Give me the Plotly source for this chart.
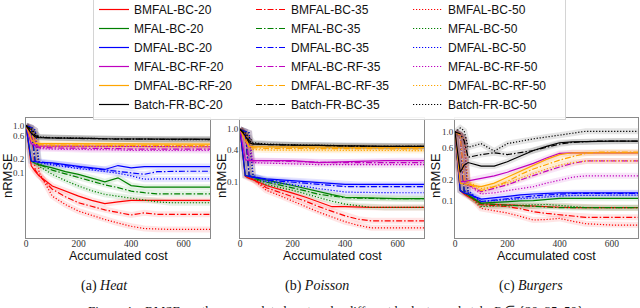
import plotly.graph_objects as go

# ---------------- data ----------------
COST = [0, 20, 35, 50, 100, 150, 200, 250, 300, 350, 400, 450, 500, 550, 600, 700]
METHODS = ["BMFAL-BC", "MFAL-BC", "DMFAL-BC", "MFAL-BC-RF", "DMFAL-BC-RF", "Batch-FR-BC"]
BUDGETS = [20, 35, 50]
PANELS = ["Heat", "Poisson", "Burgers"]
X_TICKS = [0, 200, 400, 600]
Y_TICKS_HEAT = [1.0, 0.6, 0.2, 0.1]
Y_TICKS_POISSON = [1.0, 0.4, 0.1]
Y_TICKS_BURGERS = [1.0, 0.6, 0.2, 0.1]

# Heat
heat_bmfal_20 = [1.0, 0.143, 0.11, 0.088, 0.054, 0.042, 0.033, 0.027, 0.023, 0.025, 0.027, 0.027, 0.027, 0.027, 0.027, 0.027]
heat_bmfal_35 = [1.0, 0.9, 0.116, 0.09, 0.046, 0.032, 0.024, 0.02, 0.017, 0.015, 0.0133, 0.0147, 0.0137, 0.0137, 0.0137, 0.0137]
heat_bmfal_50 = [1.0, 0.92, 0.8, 0.103, 0.033, 0.022, 0.016, 0.013, 0.0107, 0.009, 0.0077, 0.0069, 0.0067, 0.0066, 0.0066, 0.0066]
heat_mfal_20 = [1.0, 0.18, 0.16, 0.15, 0.13, 0.108, 0.095, 0.08, 0.066, 0.08, 0.055, 0.051, 0.051, 0.051, 0.051, 0.051]
heat_mfal_35 = [1.0, 0.9, 0.17, 0.155, 0.116, 0.097, 0.081, 0.068, 0.057, 0.05, 0.042, 0.039, 0.037, 0.037, 0.037, 0.037]
heat_mfal_50 = [1.0, 0.92, 0.8, 0.14, 0.095, 0.07, 0.054, 0.043, 0.036, 0.033, 0.03, 0.027, 0.025, 0.024, 0.024, 0.024]
heat_dmfal_20 = [1.0, 0.18, 0.175, 0.17, 0.165, 0.15, 0.14, 0.13, 0.12, 0.145, 0.13, 0.138, 0.138, 0.138, 0.138, 0.138]
heat_dmfal_35 = [1.0, 0.9, 0.18, 0.176, 0.16, 0.145, 0.135, 0.125, 0.118, 0.11, 0.103, 0.095, 0.108, 0.11, 0.11, 0.11]
heat_dmfal_50 = [1.0, 0.92, 0.8, 0.168, 0.15, 0.136, 0.125, 0.118, 0.11, 0.1, 0.088, 0.075, 0.076, 0.076, 0.076, 0.076]
heat_mfalrf_20 = [1.0, 0.42, 0.38, 0.37, 0.37, 0.37, 0.36, 0.36, 0.36, 0.36, 0.36, 0.36, 0.36, 0.36, 0.36, 0.36]
heat_mfalrf_35 = [1.0, 0.6, 0.36, 0.35, 0.34, 0.34, 0.33, 0.33, 0.33, 0.33, 0.32, 0.32, 0.32, 0.32, 0.32, 0.32]
heat_mfalrf_50 = [1.0, 0.7, 0.5, 0.33, 0.32, 0.32, 0.31, 0.31, 0.31, 0.31, 0.3, 0.3, 0.3, 0.3, 0.3, 0.3]
heat_dmfalrf_20 = [1.0, 0.5, 0.43, 0.42, 0.42, 0.42, 0.42, 0.42, 0.42, 0.42, 0.42, 0.42, 0.41, 0.41, 0.41, 0.41]
heat_dmfalrf_35 = [1.0, 0.7, 0.42, 0.4, 0.39, 0.39, 0.38, 0.38, 0.38, 0.38, 0.38, 0.38, 0.38, 0.38, 0.38, 0.38]
heat_dmfalrf_50 = [1.0, 0.75, 0.55, 0.38, 0.37, 0.37, 0.37, 0.37, 0.37, 0.36, 0.36, 0.36, 0.36, 0.36, 0.36, 0.36]
heat_batch_20 = [1.0, 0.7, 0.58, 0.56, 0.55, 0.55, 0.54, 0.54, 0.53, 0.53, 0.53, 0.52, 0.52, 0.52, 0.52, 0.52]
heat_batch_35 = [1.0, 0.8, 0.62, 0.57, 0.55, 0.54, 0.54, 0.53, 0.53, 0.52, 0.52, 0.52, 0.52, 0.51, 0.51, 0.51]
heat_batch_50 = [1.0, 0.85, 0.7, 0.58, 0.56, 0.55, 0.54, 0.53, 0.53, 0.52, 0.52, 0.52, 0.51, 0.51, 0.51, 0.51]

# Poisson
poisson_bmfal_20 = [1.0, 0.126, 0.115, 0.108, 0.084, 0.072, 0.06, 0.05, 0.04, 0.033, 0.033, 0.032, 0.032, 0.032, 0.032, 0.032]
poisson_bmfal_35 = [1.0, 0.9, 0.12, 0.11, 0.076, 0.063, 0.052, 0.042, 0.033, 0.027, 0.022, 0.019, 0.0177, 0.0177, 0.0177, 0.0177]
poisson_bmfal_50 = [1.0, 0.92, 0.85, 0.11, 0.068, 0.054, 0.042, 0.033, 0.026, 0.021, 0.017, 0.0145, 0.013, 0.013, 0.013, 0.013]
poisson_mfal_20 = [1.0, 0.13, 0.125, 0.12, 0.104, 0.094, 0.084, 0.073, 0.063, 0.056, 0.05, 0.049, 0.048, 0.047, 0.047, 0.047]
poisson_mfal_35 = [1.0, 0.9, 0.125, 0.118, 0.097, 0.086, 0.076, 0.066, 0.057, 0.052, 0.049, 0.048, 0.047, 0.047, 0.047, 0.047]
poisson_mfal_50 = [1.0, 0.92, 0.85, 0.115, 0.088, 0.077, 0.068, 0.058, 0.049, 0.042, 0.037, 0.034, 0.032, 0.032, 0.032, 0.032]
poisson_dmfal_20 = [1.0, 0.13, 0.125, 0.12, 0.112, 0.108, 0.104, 0.1, 0.097, 0.093, 0.088, 0.088, 0.088, 0.088, 0.088, 0.088]
poisson_dmfal_35 = [1.0, 0.9, 0.13, 0.125, 0.107, 0.102, 0.097, 0.092, 0.088, 0.084, 0.08, 0.08, 0.08, 0.08, 0.08, 0.08]
poisson_dmfal_50 = [1.0, 0.92, 0.85, 0.13, 0.1, 0.094, 0.088, 0.08, 0.073, 0.068, 0.063, 0.062, 0.061, 0.061, 0.061, 0.061]
poisson_mfalrf_20 = [1.0, 0.26, 0.25, 0.25, 0.25, 0.25, 0.25, 0.24, 0.23, 0.235, 0.24, 0.245, 0.25, 0.25, 0.25, 0.25]
poisson_mfalrf_35 = [1.0, 0.7, 0.26, 0.25, 0.25, 0.245, 0.24, 0.235, 0.23, 0.23, 0.23, 0.23, 0.23, 0.23, 0.23, 0.23]
poisson_mfalrf_50 = [1.0, 0.8, 0.6, 0.23, 0.225, 0.22, 0.22, 0.215, 0.21, 0.21, 0.21, 0.21, 0.21, 0.21, 0.21, 0.21]
poisson_dmfalrf_20 = [1.0, 0.6, 0.47, 0.46, 0.46, 0.46, 0.45, 0.45, 0.45, 0.45, 0.45, 0.45, 0.45, 0.45, 0.45, 0.45]
poisson_dmfalrf_35 = [1.0, 0.75, 0.45, 0.44, 0.43, 0.43, 0.42, 0.42, 0.42, 0.42, 0.42, 0.42, 0.42, 0.42, 0.42, 0.42]
poisson_dmfalrf_50 = [1.0, 0.8, 0.6, 0.41, 0.4, 0.4, 0.39, 0.39, 0.39, 0.39, 0.39, 0.39, 0.39, 0.39, 0.39, 0.39]
poisson_batch_20 = [1.0, 0.75, 0.55, 0.52, 0.51, 0.5, 0.5, 0.49, 0.49, 0.48, 0.48, 0.48, 0.47, 0.47, 0.47, 0.47]
poisson_batch_35 = [1.0, 0.8, 0.6, 0.53, 0.51, 0.5, 0.5, 0.49, 0.49, 0.48, 0.48, 0.47, 0.47, 0.47, 0.47, 0.47]
poisson_batch_50 = [1.0, 0.85, 0.7, 0.55, 0.52, 0.51, 0.5, 0.5, 0.49, 0.49, 0.48, 0.48, 0.47, 0.47, 0.47, 0.47]

# Burgers
burgers_bmfal_20 = [1.0, 0.14, 0.125, 0.115, 0.09, 0.088, 0.087, 0.085, 0.082, 0.081, 0.08, 0.079, 0.079, 0.079, 0.079, 0.079]
burgers_bmfal_35 = [1.0, 0.9, 0.135, 0.12, 0.087, 0.085, 0.082, 0.076, 0.069, 0.065, 0.062, 0.06, 0.057, 0.057, 0.057, 0.057]
burgers_bmfal_50 = [1.0, 0.92, 0.8, 0.125, 0.077, 0.072, 0.066, 0.059, 0.052, 0.053, 0.055, 0.05, 0.046, 0.045, 0.044, 0.044]
burgers_mfal_20 = [1.0, 0.14, 0.13, 0.12, 0.092, 0.094, 0.097, 0.099, 0.1, 0.104, 0.108, 0.108, 0.108, 0.108, 0.108, 0.108]
burgers_mfal_35 = [1.0, 0.9, 0.135, 0.12, 0.09, 0.088, 0.087, 0.085, 0.082, 0.08, 0.079, 0.079, 0.079, 0.079, 0.079, 0.079]
burgers_mfal_50 = [1.0, 0.92, 0.8, 0.13, 0.082, 0.083, 0.084, 0.085, 0.087, 0.088, 0.085, 0.082, 0.079, 0.079, 0.079, 0.079]
burgers_dmfal_20 = [1.0, 0.14, 0.13, 0.125, 0.105, 0.11, 0.117, 0.121, 0.125, 0.128, 0.13, 0.13, 0.13, 0.13, 0.13, 0.13]
burgers_dmfal_35 = [1.0, 0.9, 0.14, 0.13, 0.097, 0.102, 0.108, 0.113, 0.117, 0.121, 0.125, 0.127, 0.128, 0.128, 0.128, 0.128]
burgers_dmfal_50 = [1.0, 0.92, 0.8, 0.14, 0.097, 0.1, 0.104, 0.108, 0.112, 0.115, 0.117, 0.119, 0.12, 0.12, 0.12, 0.12]
burgers_mfalrf_20 = [1.0, 0.19, 0.19, 0.195, 0.21, 0.23, 0.26, 0.3, 0.35, 0.42, 0.49, 0.5, 0.5, 0.5, 0.5, 0.5]
burgers_mfalrf_35 = [1.0, 0.9, 0.18, 0.17, 0.135, 0.15, 0.17, 0.2, 0.235, 0.27, 0.31, 0.35, 0.38, 0.38, 0.38, 0.38]
burgers_mfalrf_50 = [1.0, 0.92, 0.8, 0.17, 0.125, 0.13, 0.14, 0.15, 0.16, 0.18, 0.2, 0.22, 0.23, 0.23, 0.23, 0.23]
burgers_dmfalrf_20 = [1.0, 0.18, 0.175, 0.17, 0.16, 0.18, 0.22, 0.27, 0.33, 0.4, 0.47, 0.5, 0.5, 0.5, 0.5, 0.5]
burgers_dmfalrf_35 = [1.0, 0.9, 0.2, 0.18, 0.14, 0.16, 0.19, 0.24, 0.29, 0.34, 0.39, 0.44, 0.49, 0.51, 0.51, 0.51]
burgers_dmfalrf_50 = [1.0, 0.92, 0.8, 0.19, 0.15, 0.16, 0.18, 0.21, 0.25, 0.29, 0.33, 0.36, 0.38, 0.38, 0.38, 0.38]
burgers_batch_20 = [1.0, 0.26, 0.33, 0.36, 0.32, 0.32, 0.37, 0.45, 0.54, 0.62, 0.7, 0.72, 0.73, 0.74, 0.74, 0.74]
burgers_batch_35 = [1.0, 0.95, 0.75, 0.43, 0.47, 0.5, 0.47, 0.5, 0.54, 0.6, 0.67, 0.71, 0.73, 0.74, 0.74, 0.74]
burgers_batch_50 = [1.0, 1.15, 1.05, 0.6, 0.68, 0.53, 0.68, 0.74, 0.8, 0.85, 0.9, 0.96, 1.03, 1.03, 1.03, 1.03]

SERIES = {
    "Heat": [[heat_bmfal_20, heat_bmfal_35, heat_bmfal_50],
             [heat_mfal_20, heat_mfal_35, heat_mfal_50],
             [heat_dmfal_20, heat_dmfal_35, heat_dmfal_50],
             [heat_mfalrf_20, heat_mfalrf_35, heat_mfalrf_50],
             [heat_dmfalrf_20, heat_dmfalrf_35, heat_dmfalrf_50],
             [heat_batch_20, heat_batch_35, heat_batch_50]],
    "Poisson": [[poisson_bmfal_20, poisson_bmfal_35, poisson_bmfal_50],
                [poisson_mfal_20, poisson_mfal_35, poisson_mfal_50],
                [poisson_dmfal_20, poisson_dmfal_35, poisson_dmfal_50],
                [poisson_mfalrf_20, poisson_mfalrf_35, poisson_mfalrf_50],
                [poisson_dmfalrf_20, poisson_dmfalrf_35, poisson_dmfalrf_50],
                [poisson_batch_20, poisson_batch_35, poisson_batch_50]],
    "Burgers": [[burgers_bmfal_20, burgers_bmfal_35, burgers_bmfal_50],
                [burgers_mfal_20, burgers_mfal_35, burgers_mfal_50],
                [burgers_dmfal_20, burgers_dmfal_35, burgers_dmfal_50],
                [burgers_mfalrf_20, burgers_mfalrf_35, burgers_mfalrf_50],
                [burgers_dmfalrf_20, burgers_dmfalrf_35, burgers_dmfalrf_50],
                [burgers_batch_20, burgers_batch_35, burgers_batch_50]],
}

# ---------------- style ----------------
COLORS = ["#ff0000", "#008000", "#0000ff", "#bf00bf", "#ffa500", "#000000"]
BANDS = ["rgba(255,0,0,0.10)", "rgba(0,128,0,0.10)", "rgba(0,0,255,0.10)",
         "rgba(191,0,191,0.10)", "rgba(255,165,0,0.12)", "rgba(0,0,0,0.10)"]
DASHES = ["solid", "6px,2px,1.5px,2px", "1.2px,1.8px"]

W, H = 640, 308
ML, MR = 26, 2              # plot area spans x = 26 .. 638 px
GW = W - ML - MR


def px(xp):
    return (xp - ML) / GW


def py(yp):
    return 1 - yp / H


X_PIX = [(26, 210), (240, 424), (455, 638)]
Y_PIX = (118, 238)
Y_RANGES = [[-2.36, 0.16], [-2.08, 0.214], [-1.546, 0.207]]
Y_TICKS = [Y_TICKS_HEAT, Y_TICKS_POISSON, Y_TICKS_BURGERS]
SUB_LABELS = ["(a) <i>Heat</i>", "(b) <i>Poisson</i>", "(c) <i>Burgers</i>"]
SUB_X = [104, 317, 531]
YLAB_X = [7, 221, 435]

fig = go.Figure()

for p, panel in enumerate(PANELS):
    xa = "x" if p == 0 else f"x{p+1}"
    ya = "y" if p == 0 else f"y{p+1}"
    for m in range(len(METHODS)):
        for b in range(len(BUDGETS)):
            fig.add_trace(go.Scatter(x=COST, y=SERIES[panel][m][b], mode="lines",
                                     line=dict(color=BANDS[m], width=6),
                                     showlegend=False, hoverinfo="skip",
                                     xaxis=xa, yaxis=ya))
    for m, method in enumerate(METHODS):
        for b, budget in enumerate(BUDGETS):
            fig.add_trace(go.Scatter(x=COST, y=SERIES[panel][m][b], mode="lines",
                                     name=f"{method}-{budget}",
                                     line=dict(color=COLORS[m], width=1.2, dash=DASHES[b]),
                                     showlegend=(p == 0),
                                     xaxis=xa, yaxis=ya))

layout = dict(
    width=W, height=H,
    margin=dict(l=ML, r=MR, t=0, b=0, pad=0, autoexpand=False),
    paper_bgcolor="white", plot_bgcolor="white",
    showlegend=True,
    legend=dict(orientation="h", x=px(93), xanchor="left", y=py(-6), yanchor="top",
                entrywidth=112, entrywidthmode="pixels", traceorder="normal",
                maxheight=1.0,
                font=dict(family="Liberation Sans, Arial, sans-serif", size=12, color="#111"),
                bordercolor="#d4d4d4", borderwidth=1, bgcolor="rgba(255,255,255,0.9)",
                itemwidth=30),
)

annotations = []
for p in range(3):
    xk = "xaxis" if p == 0 else f"xaxis{p+1}"
    yk = "yaxis" if p == 0 else f"yaxis{p+1}"
    xs = "x" if p == 0 else f"x{p+1}"
    layout[xk] = dict(domain=[px(X_PIX[p][0]), min(1.0, px(X_PIX[p][1]))], range=[0, 700],
                      tickvals=X_TICKS, ticks="", ticklen=0, ticklabelstandoff=-3,
                      showgrid=False, zeroline=False,
                      showline=True, mirror=True, linecolor="#8a8a8a", linewidth=1,
                      automargin=False,
                      tickfont=dict(family="Liberation Serif, serif", size=9.5, color="#333"),
                      anchor="y" if p == 0 else f"y{p+1}")
    layout[yk] = dict(domain=[py(Y_PIX[1]), py(Y_PIX[0])], type="log", range=Y_RANGES[p],
                      tickvals=Y_TICKS[p], ticktext=[f"{v:.1f}" for v in Y_TICKS[p]],
                      ticks="", ticklen=0, ticklabelstandoff=-1,
                      showgrid=False, zeroline=False,
                      showline=True, mirror=True, linecolor="#8a8a8a", linewidth=1,
                      automargin=False,
                      tickfont=dict(family="Liberation Serif, serif", size=9, color="#333"),
                      anchor=xs)
    cx = (X_PIX[p][0] + X_PIX[p][1]) / 2
    annotations.append(dict(text="Accumulated cost", x=px(cx), y=py(256),
                            xref="paper", yref="paper", showarrow=False,
                            xanchor="center", yanchor="middle", borderpad=0,
                            font=dict(family="Liberation Sans, Arial, sans-serif", size=12.5, color="#111")))
    annotations.append(dict(text="nRMSE", x=px(YLAB_X[p]), y=py(176), textangle=-90,
                            xref="paper", yref="paper", showarrow=False,
                            xanchor="center", yanchor="middle", borderpad=0,
                            font=dict(family="Liberation Sans, Arial, sans-serif", size=13, color="#111")))
    annotations.append(dict(text=SUB_LABELS[p], x=px(SUB_X[p]), y=py(286),
                            xref="paper", yref="paper", showarrow=False,
                            xanchor="center", yanchor="middle",
                            font=dict(family="Liberation Serif, Times New Roman, serif", size=14, color="#111")))

annotations.append(dict(text="Figure 4: nRMSE vs. the accumulated cost under different budgets per batch; <i>B</i> ∈ {20, 35, 50}",
                        x=px(335), y=py(301), xref="paper", yref="paper", showarrow=False,
                        xanchor="center", yanchor="top",
                        font=dict(family="Liberation Serif, Times New Roman, serif", size=13, color="#111")))
layout["annotations"] = annotations

fig.update_layout(**layout)
fig.write_html("out.html", config={"displayModeBar": False},
               post_script="document.body.style.margin='0';document.body.style.overflow='hidden';")
